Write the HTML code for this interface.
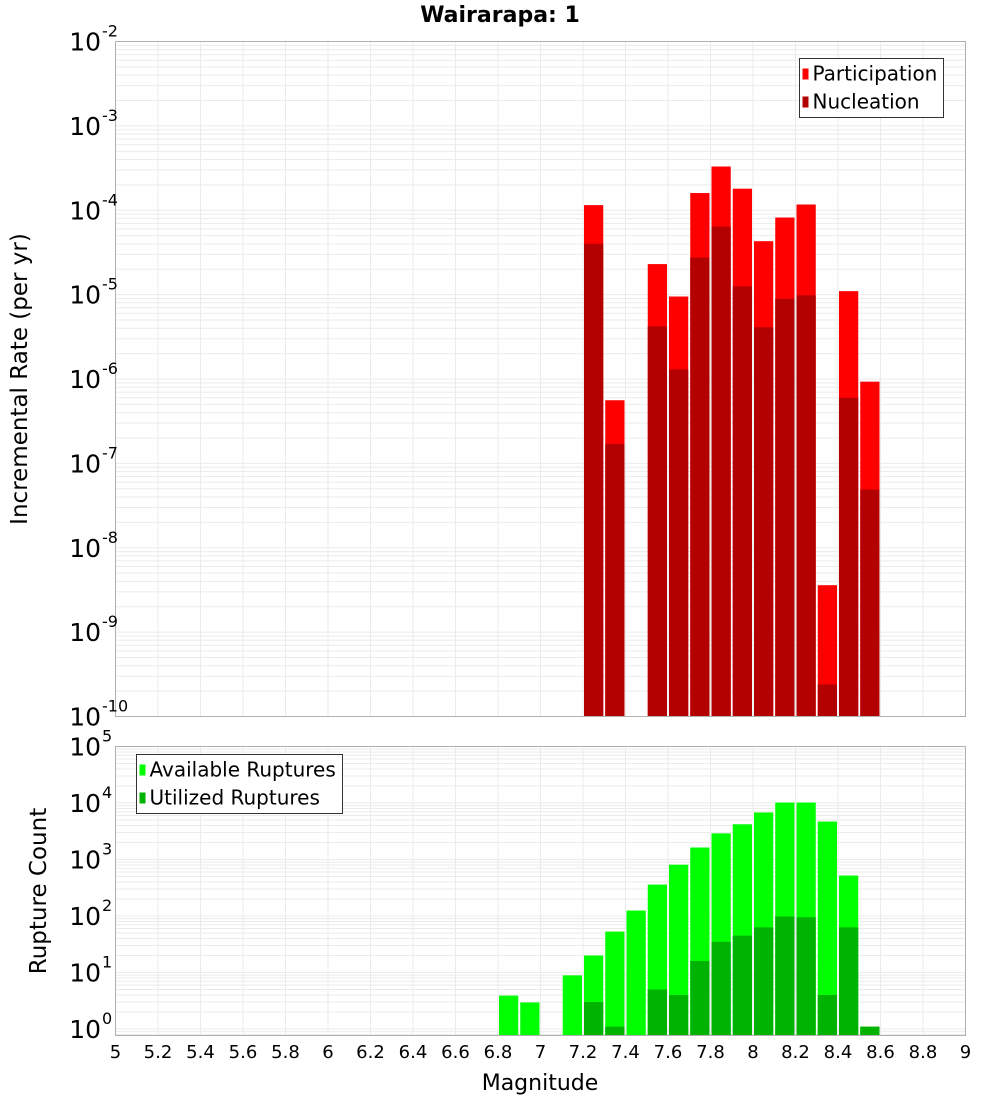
<!DOCTYPE html>
<html><head><meta charset="utf-8"><style>
body{margin:0;background:#fff;font-family:"DejaVu Sans","Liberation Sans",sans-serif}
svg text{font-family:"DejaVu Sans","Liberation Sans",sans-serif}
</style></head><body>
<svg id="c" width="1000" height="1100" xmlns="http://www.w3.org/2000/svg"></svg>
<script>
const mags=[7.25,7.35,7.55,7.65,7.75,7.85,7.95,8.05,8.15,8.25,8.35,8.45,8.55];
const participation=[1.15e-4,5.6e-7,2.3e-5,9.5e-6,1.6e-4,3.3e-4,1.8e-4,4.3e-5,8.2e-5,1.17e-4,3.6e-9,1.1e-5,9.3e-7];
const nucleation=[4e-5,1.7e-7,4.2e-6,1.3e-6,2.75e-5,6.4e-5,1.25e-5,4.1e-6,8.9e-6,9.8e-6,2.4e-10,6e-7,4.9e-8];
const countMags=[6.85,6.95,7.15,7.25,7.35,7.45,7.55,7.65,7.75,7.85,7.95,8.05,8.15,8.25,8.35,8.45,8.55];
const available=[3.9,2.95,8.9,20,53,125,360,810,1630,2900,4200,6800,10200,10200,4700,520,1.1];
const utilized=[0,0,0,3,1.1,0,5,4,16,35,45,63,98,95,4,63,1.1];
const xTicks=[5,5.2,5.4,5.6,5.8,6,6.2,6.4,6.6,6.8,7,7.2,7.4,7.6,7.8,8,8.2,8.4,8.6,8.8,9];
const topExps=[-2,-3,-4,-5,-6,-7,-8,-9,-10];
const botExps=[5,4,3,2,1,0];

const S=document.getElementById('c'),NS='http://www.w3.org/2000/svg';
function el(t,a,p){const e=document.createElementNS(NS,t);for(const k in a)e.setAttribute(k,a[k]);(p||S).appendChild(e);return e;}
const L=115.5,R=965.5;
const x=v=>L+(v-5)/4*(R-L);
const T0=41.5,T1=716.5;
const yT=v=>T0+(-2-Math.log10(v))/8*(T1-T0);
const B0=746.5,B1=1035.5,bpd=56.5;
const yB=v=>Math.min(B1,B0+(5-Math.log10(v))*bpd);

function grid(y0,y1,yf,lo,hi,name){
  const g=el('g',{});
  
  
  for(let e=lo;e<hi;e++)for(let m=1;m<10;m++){const y=yf(m*Math.pow(10,e));if(y>=y0&&y<=y1)el('line',{x1:L,x2:R,y1:y,y2:y,stroke:'#ebebeb','stroke-width':1},g);}
  xTicks.forEach(t=>el('line',{x1:x(t),x2:x(t),y1:y0,y2:y1,stroke:'#ebebeb','stroke-width':1},g));
}
grid(T0,T1,yT,-10,-2,'top-grid');
grid(B0,B1,yB,-1,5,'bottom-grid');

const hw=0.05;
mags.forEach((m,i)=>{
  const r=el('rect',{x:x(m-hw)+1,width:x(m+hw)-x(m-hw)-2,y:yT(participation[i]),height:T1-yT(participation[i]),fill:'#ff0000'});
  
  
  const n=el('rect',{x:x(m-hw)+1,width:x(m+hw)-x(m-hw)-2,y:yT(nucleation[i]),height:T1-yT(nucleation[i]),fill:'#b30000'});
  
  
});
countMags.forEach((m,i)=>{
  if(available[i]>0){const r=el('rect',{x:x(m-hw)+1,width:x(m+hw)-x(m-hw)-2,y:yB(available[i]),height:B1-yB(available[i]),fill:'#00ff00'});
  
  }
  if(utilized[i]>0){const u=el('rect',{x:x(m-hw)+1,width:x(m+hw)-x(m-hw)-2,y:yB(utilized[i]),height:B1-yB(utilized[i]),fill:'#00b300'});
  
  }
});
el('rect',{x:L,y:T0,width:R-L,height:T1-T0,fill:'none',stroke:'#b0b0b0'});
el('rect',{x:L,y:B0,width:R-L,height:B1-B0,fill:'none',stroke:'#b0b0b0'});

function pow(yc,e,name){
  const t=el('text',{x:101,y:yc+9,'font-size':25,'text-anchor':'end',fill:'#000'});
  t.textContent='10';
  
  
  const s=el('text',{x:102,y:yc-5,'font-size':16,fill:'#000'});s.textContent=String(e);
}
topExps.forEach(e=>pow(yT(Math.pow(10,e)),e,'y-tick-label'));
botExps.forEach(e=>pow(B0+(5-e)*bpd,e,'y2-tick-label'));
xTicks.forEach(t=>{const tx=el('text',{x:x(t),y:1058,'font-size':18,'text-anchor':'middle'});tx.textContent=String(t);

});

const ti=el('text',{x:500,y:22,'font-size':22,'font-weight':'bold','text-anchor':'middle'});ti.textContent='Wairarapa: 1';


const xl=el('text',{x:540,y:1090,'font-size':22,'text-anchor':'middle'});xl.textContent='Magnitude';


const yl=el('text',{transform:'translate(27,379) rotate(-90)','font-size':23,'text-anchor':'middle'});yl.textContent='Incremental Rate (per yr)';
yl.setAttribute('transform','translate(27,379) rotate(-90)');
yl.setAttribute('x','0');
yl.setAttribute('y','0');
yl.setAttribute('transform','translate(19,379) rotate(-90) translate(0,8)');


const yl2=el('text',{transform:'translate(38,891) rotate(-90) translate(0,8)','font-size':23,'text-anchor':'middle'});yl2.textContent='Rupture Count';



function legend(bx,by,w,items,name){
  const g=el('g',{});
  
  
  el('rect',{x:bx,y:by,width:w,height:59,fill:'#fff',stroke:'#333','stroke-width':1},g);
  items.forEach((it,i)=>{
    el('rect',{x:bx+3,y:by+10+i*28,width:6,height:11,fill:it[1]},g);
    const t=el('text',{x:bx+13,y:by+22+i*28,'font-size':20},g);t.textContent=it[0];
  });
}
legend(799.5,58.5,144,[['Participation','#ff0000'],['Nucleation','#b30000']],'top-legend');
legend(136.5,754.5,206,[['Available Ruptures','#00ff00'],['Utilized Ruptures','#00b300']],'bottom-legend');
</script>
</body></html>
